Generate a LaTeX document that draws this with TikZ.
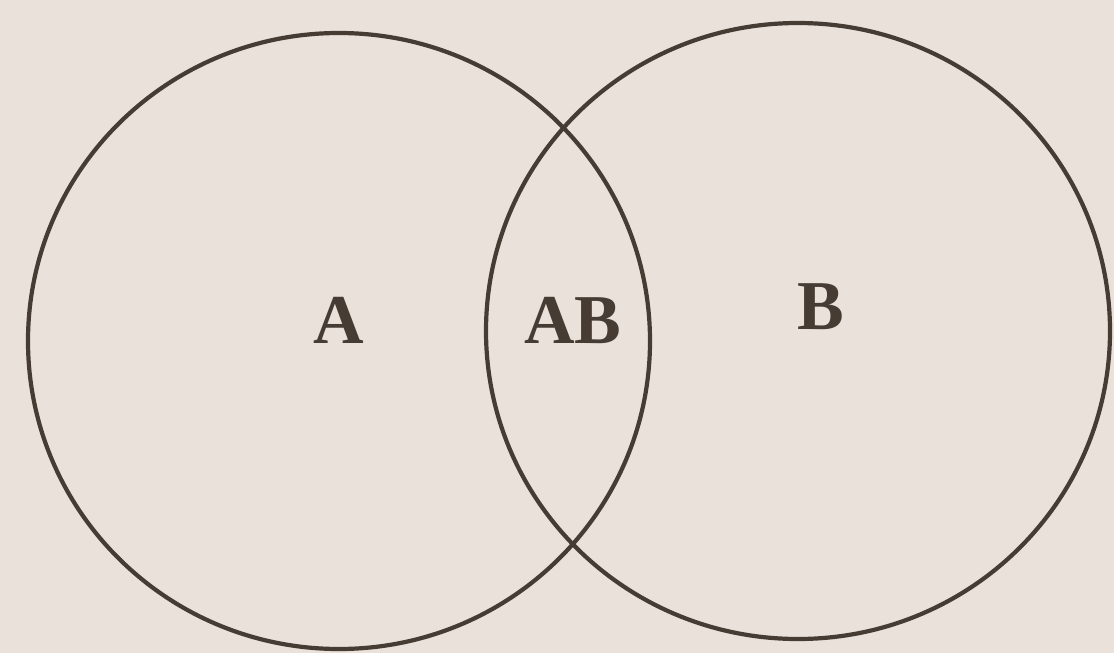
\documentclass[tikz,border=0pt]{standalone}
\usepackage{fontspec}
\setmainfont{Liberation Serif}
\definecolor{paper}{HTML}{E9E1DA}
\definecolor{ink}{HTML}{463C33}
\begin{document}
\begin{tikzpicture}[x=1pt,y=-1pt,
  ring/.style={draw=ink,line width=4.2pt},
  lab/.style={text=ink,font=\fontsize{70}{70}\selectfont\bfseries,inner sep=0pt,anchor=base}]
\fill[paper] (0,0) rectangle (1114,653);
\useasboundingbox (0,0) rectangle (1114,653);
\draw[ring] (339,341) ellipse [x radius=311, y radius=308];
\draw[ring] (798,331) ellipse [x radius=312, y radius=308];
\node[lab] (a) at (339,343) {A};
\node[lab] (ab) at (573,343) {AB};
\node[lab] (b) at (821,329) {B};
\end{tikzpicture}
\end{document}
